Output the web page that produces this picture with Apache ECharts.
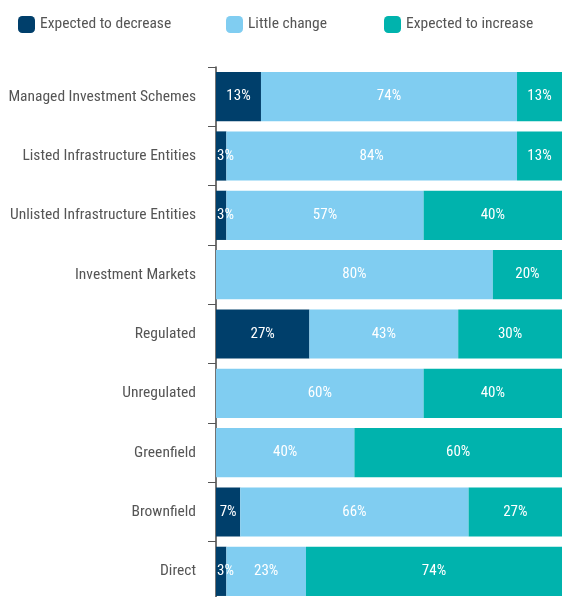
<!DOCTYPE html>
<html><head><meta charset="utf-8">
<script src="https://cdn.jsdelivr.net/npm/echarts@6/dist/echarts.min.js"></script>
<style>html,body{margin:0;padding:0;background:#fff}#c{width:573px;height:597px}</style>
</head><body><div id="c"></div>
<script>
const categories = ["Managed Investment Schemes","Listed Infrastructure Entities","Unlisted Infrastructure Entities","Investment Markets","Regulated","Unregulated","Greenfield","Brownfield","Direct"];
const decrease = [13,3,3,0,27,0,0,7,3];
const little = [74,84,57,80,43,60,40,66,23];
const increase = [13,13,40,20,30,40,60,27,74];
const seriesNames = ["Expected to decrease","Little change","Expected to increase"];
const colors = ["#003f6b","#80cdf1","#00b3ad"];

function pickFont(list) {
  const ctx = document.createElement('canvas').getContext('2d');
  const s = 'Managed Investment Schemes 0123';
  for (const f of list) {
    ctx.font = "20px monospace"; const a = ctx.measureText(s).width;
    ctx.font = "20px '" + f + "', monospace"; const b = ctx.measureText(s).width;
    ctx.font = "20px serif"; const c = ctx.measureText(s).width;
    ctx.font = "20px '" + f + "', serif"; const d = ctx.measureText(s).width;
    if (a !== b || c !== d) return f;
  }
  return 'Roboto';
}
const FONTNAME = pickFont(['Liberation Sans Narrow','Arial Narrow','Roboto Condensed','DejaVu Sans Condensed','Open Sans Condensed']);
const FONT = "'" + FONTNAME + "', sans-serif";

const chart = echarts.init(document.getElementById('c'));
const mk = (name, data, color) => ({
  name, type: 'bar', stack: 'all', barCategoryGap: '17%',
  data: data.map(v => v > 0 && v < 5
    ? { value: v, label: { position: 'insideLeft', distance: 1 } }
    : v),
  itemStyle: { color },
  label: { show: true, position: 'inside', color: '#fff', fontFamily: FONT, fontSize: 15,
    formatter: p => p.value ? p.value + '%' : '' }
});
const legendBase = { top: 11, itemWidth: 17, itemHeight: 17, icon: 'roundRect', itemGap: 10,
  textStyle: { color: '#555', fontFamily: FONT, fontSize: 15.5 } };
chart.setOption({
  animation: false,
  legend: [
    Object.assign({}, legendBase, { left: 13, data: [seriesNames[0]] }),
    Object.assign({}, legendBase, { left: 221, data: [seriesNames[1]] }),
    Object.assign({}, legendBase, { left: 379, data: [seriesNames[2]] })
  ],
  grid: { left: 216, right: 11, top: 67, bottom: -4, containLabel: false, outerBoundsMode: 'none' },
  xAxis: { type: 'value', min: 0, max: 100, show: false },
  yAxis: { type: 'category', data: categories, inverse: true,
    axisLine: { lineStyle: { color: '#444', width: 1.5 } },
    axisTick: { show: true, length: 8, lineStyle: { color: '#555' } },
    axisLabel: { color: '#555', fontFamily: FONT, fontSize: 15.5, margin: 20 } },
  series: [mk(seriesNames[0], decrease, colors[0]), mk(seriesNames[1], little, colors[1]), mk(seriesNames[2], increase, colors[2])]
});
</script></body></html>
